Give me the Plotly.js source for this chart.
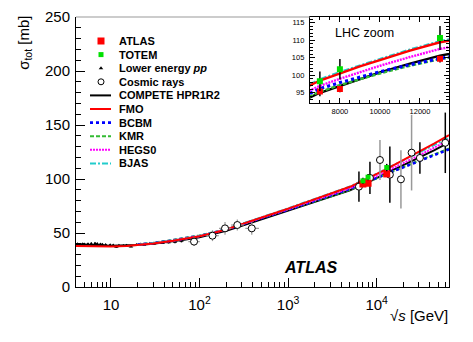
<!DOCTYPE html>
<html>
<head>
<meta charset="utf-8">
<script src="https://cdn.plot.ly/plotly-3.0.1.min.js"></script>
<style>
	html, body { margin: 0; padding: 0; background: #fff; }
	#chart { width: 473px; height: 342px; }
</style>
</head>
<body>
<div id="chart"></div>
<script>
// sqrt(s) grid for the model curves [GeV]
const energy = [4, 5, 7, 10, 15, 20, 30, 50, 70, 100, 150, 200, 300, 500, 700, 1000, 1500, 2000, 3000, 5000, 7000, 8000, 9000, 10000, 11500, 13000, 20000, 30000, 45000, 65600];
const sigmaCompete = [39.8, 39.2, 38.6, 38.3, 38.4, 38.9, 40.0, 42.2, 44.0, 46.0, 49.3, 52.0, 56.6, 62.5, 66.6, 70.8, 75.8, 79.2, 83.3, 89.6, 95.0, 97.0, 98.9, 100.8, 103.3, 105.6, 112.8, 119.5, 126.8, 133.8];
const sigmaFMO = [38.0, 37.8, 37.6, 37.6, 38.0, 38.7, 40.2, 42.8, 44.8, 47.0, 50.5, 53.3, 58.2, 64.0, 68.3, 72.6, 77.8, 81.4, 86.0, 92.8, 98.5, 100.6, 102.5, 104.3, 107.0, 109.4, 117.5, 125.0, 133.0, 140.7];
const sigmaBCBM = [null, null, null, null, null, 39.2, 40.6, 43.1, 45.1, 47.3, 50.6, 53.2, 58.0, 63.6, 67.6, 71.6, 76.4, 79.7, 84.5, 90.9, 96.2, 97.9, 99.5, 101.0, 103.0, 104.8, 110.8, 116.5, 122.0, 127.5];
const sigmaKMR = [null, null, null, null, null, 39.5, 41.0, 43.6, 45.6, 47.8, 51.0, 53.6, 58.3, 63.8, 67.7, 71.6, 76.2, 79.3, 83.8, 90.0, 95.3, 97.2, 98.9, 100.5, 102.7, 104.6, 111.0, 117.0, 122.8, 128.3];
const sigmaHEGS0 = [null, null, null, null, null, 39.0, 40.4, 42.9, 44.9, 47.1, 50.5, 53.2, 58.0, 63.7, 67.9, 72.0, 77.0, 80.4, 85.0, 91.5, 97.0, 99.0, 100.9, 102.7, 105.2, 107.5, 114.8, 121.8, 129.0, 136.0];
const sigmaBJAS = [null, null, null, null, null, 39.0, 40.5, 43.0, 45.0, 47.2, 50.7, 53.5, 58.4, 64.2, 68.5, 72.8, 78.0, 81.6, 86.2, 93.0, 98.8, 100.9, 102.8, 104.6, 107.3, 109.7, 117.5, 124.5, 131.5, 138.3];

// measurements
const atlasE = [7000, 8000, 13000];
const atlasSigma = [95.35, 96.07, 104.7];
const atlasErr = [1.36, 0.92, 1.1];

const totemE = [7000, 8000, 13000];
const totemSigma = [98.3, 101.7, 110.6];
const totemErr = [2.8, 2.9, 3.4];

const lowE = [4.2, 4.5, 4.8, 5.0, 5.5, 6.0, 6.6, 7.0, 7.6, 8.0, 8.7, 9.8, 10.6, 11.5, 12.3, 13.8, 15.0, 16.8, 19.4, 21.7, 23.5, 27.4, 30.6, 38.3, 44.7, 52.8, 62.5];
const lowSigma = [39.6, 39.2, 39.5, 39.3, 39.6, 39.9, 40.1, 39.8, 39.4, 39.2, 38.9, 38.6, 38.4, 37.2, 38.2, 38.0, 38.3, 37.6, 38.9, 39.3, 39.2, 40.0, 40.2, 41.0, 41.5, 42.0, 42.8];
const lowErr = [1.0, 1.0, 1.0, 1.0, 1.0, 1.2, 1.0, 0.8, 1.0, 0.8, 0.8, 1.0, 0.8, 1.0, 0.8, 0.8, 1.0, 0.8, 0.8, 1.0, 0.8, 1.0, 1.0, 1.2, 1.2, 1.5, 1.5];

// cosmic rays, low energy (gray bars, with energy errors)
const cosmicLowE = [86.7, 140, 194, 267, 389];
const cosmicLowSigma = [42.0, 47.5, 54.3, 57.4, 54.3];
const cosmicLowErr = [4, 5, 6, 5, 6];
const cosmicLowErrEPlus = [14, 25, 35, 50, 80];
const cosmicLowErrEMinus = [12, 20, 28, 40, 60];
// cosmic rays, high energy
const cosmicBlackE = [6310, 8400, 14100, 30800, 59600];
const cosmicBlackSigma = [92.9, 101.0, 104.0, 119.5, 133.5];
const cosmicBlackErr = [14, 15, 26, 14.6, 28];
const cosmicGrayE = [10900, 18800, 24800];
const cosmicGraySigma = [117.6, 99.7, 124.4];
const cosmicGrayErr = [18.5, 27, 35];

const xTickVals = [10, 100, 1000, 10000];
const xTickText = ["10", "10<sup>2</sup>", "10<sup>3</sup>", "10<sup>4</sup>"];

const font = "Liberation Sans, Arial, sans-serif";

const style = {
	atlas: { symbol: "square", size: 7, color: "#ff0000" },
	totem: { symbol: "square", size: 5, color: "#00e000" },
	low: { symbol: "triangle-up", size: 4, color: "#000" },
	cosmic: { symbol: "circle", size: 7, color: "#fff", line: { color: "#000", width: 1 } },
	compete: { color: "#000", width: 2, dash: "solid" },
	fmo: { color: "#ff0000", width: 2, dash: "solid" },
	bcbm: { color: "#0000ff", width: 2.6, dash: "dot" },
	kmr: { color: "#33bb33", width: 2, dash: "4px,2px" },
	hegs0: { color: "#ff00ff", width: 2, dash: "2px,1px" },
	bjas: { color: "#22cccc", width: 2, dash: "6px,2px,2px,2px" }
};

const models = [
	{ y: sigmaCompete, line: style.compete },
	{ y: sigmaKMR, line: style.kmr },
	{ y: sigmaBCBM, line: style.bcbm },
	{ y: sigmaHEGS0, line: style.hegs0 },
	{ y: sigmaBJAS, line: style.bjas },
	{ y: sigmaFMO, line: style.fmo }
];

function curveTraces(xa, ya, widthScale) {
	return models.map(m => ({
		x: energy, y: m.y, xaxis: xa, yaxis: ya, type: "scatter", mode: "lines",
		line: Object.assign({}, m.line, { width: m.line.width * widthScale }),
		hoverinfo: "skip"
	}));
}

function pointTrace(x, y, err, marker, xa, ya, errColor) {
	return {
		x: x, y: y, xaxis: xa, yaxis: ya, type: "scatter", mode: "markers",
		marker: marker,
		error_y: { type: "data", array: err, color: errColor || "#000", thickness: 1.5, width: 0 }
	};
}

const data = [];

// main plot
data.push(pointTrace(lowE, lowSigma, lowErr, style.low, "x", "y"));
curveTraces("x", "y", 1).forEach(t => data.push(t));
data.push({
	x: cosmicLowE, y: cosmicLowSigma, xaxis: "x", yaxis: "y", type: "scatter", mode: "markers",
	marker: style.cosmic,
	error_y: { type: "data", array: cosmicLowErr, color: "#999", thickness: 1.2, width: 0 },
	error_x: { type: "data", array: cosmicLowErrEPlus, arrayminus: cosmicLowErrEMinus, color: "#999", thickness: 1.2, width: 0 }
});
data.push(pointTrace(cosmicGrayE, cosmicGraySigma, cosmicGrayErr, style.cosmic, "x", "y", "#999"));
data.push(pointTrace(cosmicBlackE, cosmicBlackSigma, cosmicBlackErr, style.cosmic, "x", "y", "#000"));
data.push(pointTrace(atlasE, atlasSigma, atlasErr, style.atlas, "x", "y"));
data.push(pointTrace(totemE, totemSigma, totemErr, style.totem, "x", "y"));

// LHC zoom inset
curveTraces("x2", "y2", 1.2).forEach(t => data.push(t));
data.push(pointTrace(atlasE, atlasSigma, atlasErr, Object.assign({}, style.atlas, { size: 6 }), "x2", "y2"));
data.push(pointTrace(totemE, totemSigma, totemErr, Object.assign({}, style.totem, { size: 6 }), "x2", "y2"));

// legend, drawn on a pixel-scaled overlay axis
const legendLabels = ["ATLAS", "TOTEM", "Lower energy <i>pp</i>", "Cosmic rays", "COMPETE HPR1R2", "FMO", "BCBM", "KMR", "HEGS0", "BJAS"];
const legendStyles = [
	style.atlas, style.totem, style.low,
	Object.assign({}, style.cosmic, { size: 6 }),
	style.compete, style.fmo, style.bcbm, style.kmr, style.hegs0, style.bjas
];
const legendTop = 41, legendStep = 13.6;
const annotations = [];
legendLabels.forEach((label, i) => {
	const yy = legendTop + i * legendStep;
	const s = legendStyles[i];
	if (i < 4) {
		data.push({ x: [101], y: [yy], xaxis: "x3", yaxis: "y3", type: "scatter", mode: "markers", marker: s, hoverinfo: "skip" });
	} else {
		data.push({ x: [90, 111], y: [yy, yy], xaxis: "x3", yaxis: "y3", type: "scatter", mode: "lines", line: s, hoverinfo: "skip" });
	}
	annotations.push({
		xref: "x3", yref: "y3", x: 117, y: yy, xanchor: "left", yanchor: "middle",
		text: "<b>" + label + "</b>", showarrow: false,
		font: { family: font, size: 11, color: "#000" }
	});
});

const minorLog = [];
for (let d = 0; d <= 4; d++) {
	for (let m = 2; m <= 9; m++) {
		const v = m * Math.pow(10, d);
		if (v > 4 && v < 65000) minorLog.push(v);
	}
}

annotations.push(
	{
		xref: "paper", yref: "paper", x: -0.137, y: 0.904, textangle: -90,
		xanchor: "center", yanchor: "middle", showarrow: false,
		text: "σ<sub>tot</sub> [mb]", font: { family: font, size: 15, color: "#000" }
	},
	{
		xref: "paper", yref: "paper", x: 1.003, y: -0.104,
		xanchor: "right", yanchor: "middle", showarrow: false,
		text: "√<i>s</i> [GeV]", font: { family: font, size: 15, color: "#000" }
	},
	{
		xref: "paper", yref: "paper", x: 0.63, y: 0.074,
		xanchor: "center", yanchor: "middle", showarrow: false,
		text: "<b><i>ATLAS</i></b>", font: { family: font, size: 16, color: "#000" }
	},
	{
		xref: "paper", yref: "paper", x: 0.689, y: 0.941,
		xanchor: "left", yanchor: "middle", showarrow: false,
		text: "LHC zoom", font: { family: font, size: 12.5, color: "#000" }
	}
);

const layout = {
	width: 473,
	height: 342,
	margin: { l: 76, r: 24, t: 17, b: 55, pad: 0 },
	paper_bgcolor: "#fff",
	plot_bgcolor: "#fff",
	showlegend: false,
	font: { family: font, color: "#000" },
	xaxis: {
		type: "log", range: [0.605, 4.817], domain: [0, 1], anchor: "y",
		tickmode: "array", tickvals: xTickVals, ticktext: xTickText,
		ticks: "inside", ticklen: 9, tickcolor: "#000", tickwidth: 1,
		showline: true, linecolor: "#000", linewidth: 1, mirror: false,
		showgrid: false, zeroline: false, ticklabelstandoff: 4,
		tickfont: { family: font, size: 15, color: "#000" },
		minor: { tickmode: "array", tickvals: minorLog, ticks: "inside", ticklen: 5, tickcolor: "#000", showgrid: false }
	},
	yaxis: {
		range: [0, 250], domain: [0, 1], anchor: "x", dtick: 50, tick0: 0,
		ticks: "inside", ticklen: 9, tickcolor: "#000", tickwidth: 1,
		showline: true, linecolor: "#000", linewidth: 1, mirror: true,
		showgrid: false, zeroline: false, ticklabelstandoff: 2,
		tickfont: { family: font, size: 15, color: "#000" },
		minor: { dtick: 10, ticks: "inside", ticklen: 5, tickcolor: "#000", showgrid: false }
	},
	xaxis2: {
		range: [6500, 13450], domain: [0.627, 1], anchor: "y2", dtick: 2000, tick0: 0,
		tickformat: "d", ticks: "inside", ticklen: 5, tickcolor: "#000",
		showline: true, linecolor: "#000", linewidth: 1, mirror: "ticks",
		showgrid: false, zeroline: false, ticklabelstandoff: 1,
		tickfont: { family: font, size: 7.5, color: "#000" },
		minor: { dtick: 500, ticks: "inside", ticklen: 3, tickcolor: "#000", showgrid: false }
	},
	yaxis2: {
		range: [92.05, 116.6], domain: [0.681, 1], anchor: "x2", dtick: 5, tick0: 0,
		ticks: "inside", ticklen: 5, tickcolor: "#000",
		showline: true, linecolor: "#000", linewidth: 1, mirror: "ticks",
		showgrid: false, zeroline: false, ticklabelstandoff: 3,
		tickfont: { family: font, size: 7.5, color: "#000" },
		minor: { dtick: 1, ticks: "inside", ticklen: 3, tickcolor: "#000", showgrid: false }
	},
	xaxis3: { overlaying: "x", anchor: "y3", range: [76, 449], visible: false, fixedrange: true },
	yaxis3: { overlaying: "y", anchor: "x3", range: [287, 17], visible: false, fixedrange: true },
	shapes: [
		{ type: "line", xref: "paper", yref: "paper", x0: 0, x1: 0.627, y0: 1, y1: 1, line: { color: "#999", width: 1 } }
	],
	annotations: annotations
};

Plotly.newPlot("chart", data, layout, { staticPlot: true, displayModeBar: false });
</script>
</body>
</html>
